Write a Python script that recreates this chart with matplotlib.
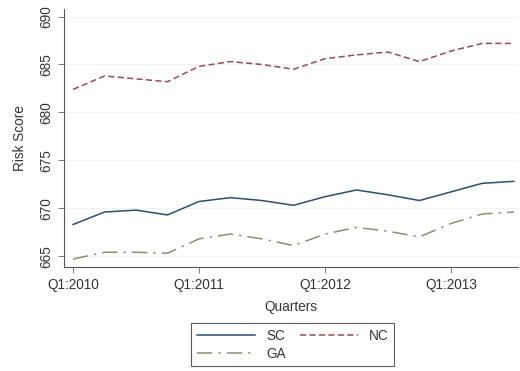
import matplotlib
matplotlib.use('Agg')
import matplotlib.pyplot as plt
import numpy as np

# Data (quarterly, Q1:2010 .. Q3:2013)
quarters = list(range(15))
tickPos = [0, 4, 8, 12]
tickLabels = ['Q1:2010', 'Q1:2011', 'Q1:2012', 'Q1:2013']
scScore = [668.3, 669.6, 669.8, 669.3, 670.7, 671.1, 670.8, 670.3,
           671.2, 671.9, 671.4, 670.8, 671.7, 672.6, 672.8]
ncScore = [682.4, 683.8, 683.5, 683.2, 684.8, 685.3, 685.0, 684.5,
           685.6, 686.0, 686.3, 685.3, 686.4, 687.2, 687.2]
gaScore = [664.7, 665.4, 665.4, 665.3, 666.8, 667.3, 666.8, 666.1,
           667.3, 668.0, 667.6, 667.0, 668.4, 669.4, 669.6]
yTicks = [665, 670, 675, 680, 685, 690]

plt.rcParams['font.family'] = ['Liberation Sans', 'DejaVu Sans']

fig = plt.figure(figsize=(5.2, 3.71), dpi=100)
ax = fig.add_axes([0.123, 0.280, 0.873, 0.696])

# Series
lSC, = ax.plot(quarters, scScore, color='#2a4f72', lw=1.1, label='SC')
lNC, = ax.plot(quarters, ncScore, color='#9a4a52', lw=1.1,
               dashes=(4, 2.2), label='NC')
lGA, = ax.plot(quarters, gaScore, color='#8f8c70', lw=1.1,
               dashes=(10, 4, 1.5, 4), label='GA')

# Axes styling (Stata-like)
ax.set_xlim(-0.29, 14.13)
ax.set_ylim(663.85, 690.8)
ax.set_xticks(tickPos)
ax.set_xticklabels(tickLabels, fontsize=9.8)
ax.set_yticks(yTicks)
ax.set_yticklabels([str(v) for v in yTicks], fontsize=9.8, rotation=90,
                   va='center')
ax.tick_params(direction='out', length=4, width=0.6, colors='#666666',
               labelcolor='#333333')
for side in ['top', 'right']:
    ax.spines[side].set_visible(False)
for side in ['left', 'bottom']:
    ax.spines[side].set_color('#555555')
    ax.spines[side].set_linewidth(0.8)
ax.grid(axis='y', color='#eef2f3', lw=0.9)
ax.set_axisbelow(True)

ax.set_xlabel('Quarters', fontsize=9.8, labelpad=6, color='#333333')
ax.set_ylabel('Risk Score', fontsize=9.8, labelpad=9, color='#333333')

# Legend below the plot
leg = fig.legend(handles=[lSC, lGA, lNC], labels=['SC', 'GA', 'NC'],
                 ncol=2, loc='lower center', bbox_to_anchor=(0.563, -0.005),
                 fontsize=9.8, frameon=True, fancybox=False, handlelength=4.3,
                 columnspacing=1.0, borderpad=0.4, labelspacing=0.3)
for t in leg.get_texts():
    t.set_color('#333333')
leg.get_frame().set_edgecolor('#333333')
leg.get_frame().set_linewidth(0.8)

fig.savefig('out.png', dpi=100)
